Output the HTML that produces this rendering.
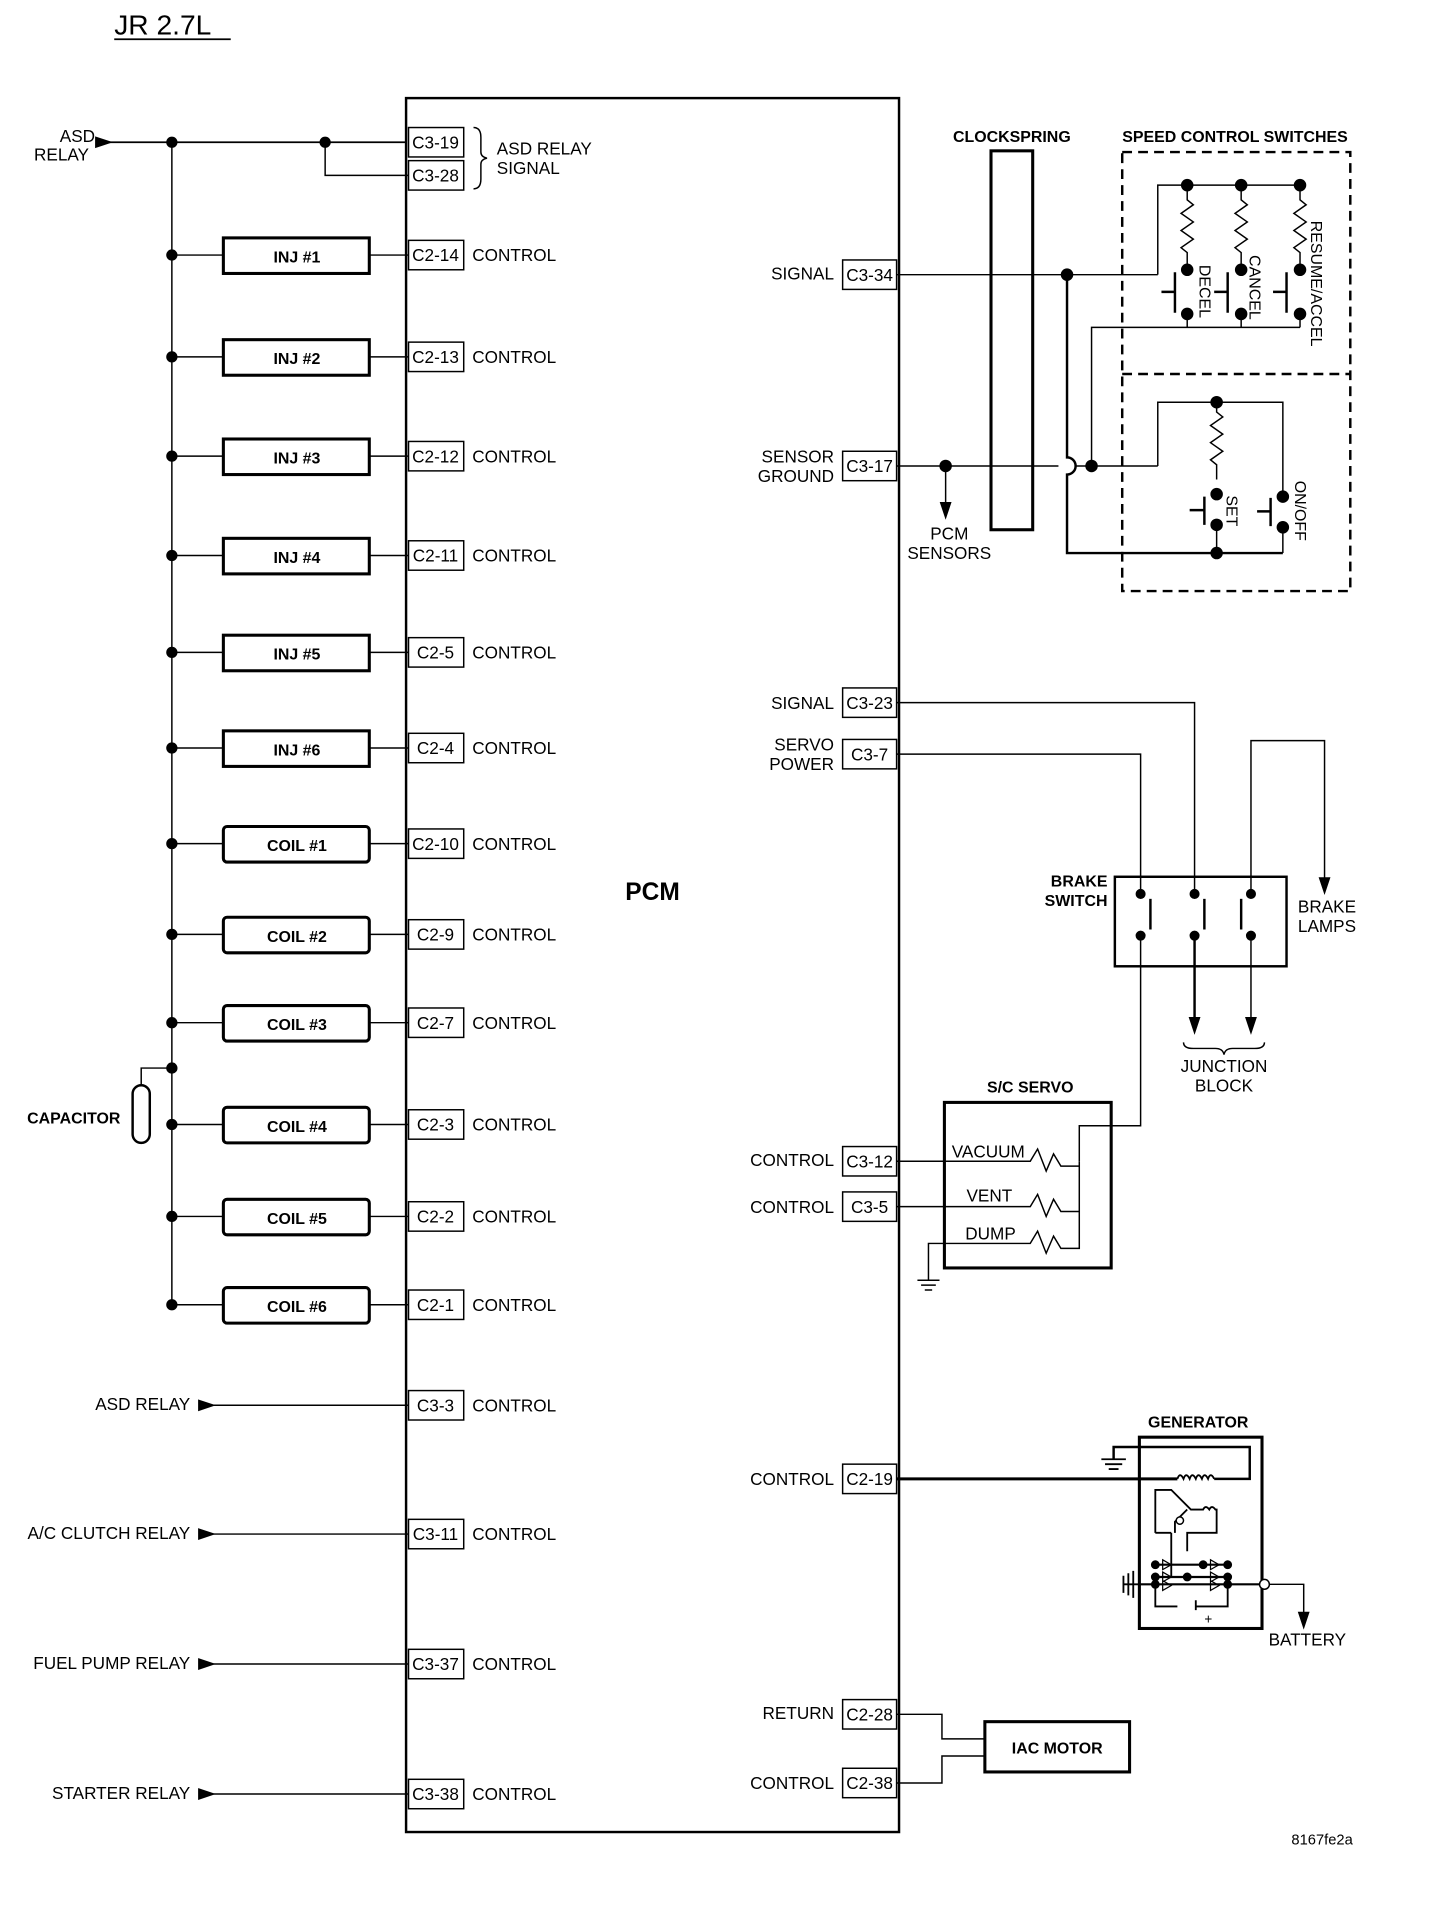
<!DOCTYPE html>
<html><head><meta charset="utf-8"><style>
html,body{margin:0;padding:0;background:#fff}
svg{display:block}
text{font-family:"Liberation Sans",Arial,sans-serif;font-size:14px;fill:#000}
.b{font-weight:bold}
</style></head><body>
<svg width="1440" height="1924" viewBox="0 0 1174 1569" xmlns="http://www.w3.org/2000/svg">
<g stroke="#000" fill="none" stroke-width="1.2">
<text x="93" y="28" style="font-size:23px" stroke="none">JR 2.7L</text>
<line x1="93" y1="32" x2="188" y2="32" stroke-width="1.5"/>
<rect x="331" y="80" width="402" height="1414" stroke-width="2"/>
<text x="532" y="734" class="b" style="font-size:20px" text-anchor="middle" stroke="none">PCM</text>
<line x1="140" y1="116" x2="140" y2="1064"/>
<line x1="78" y1="116" x2="331" y2="116" stroke-width="1.5"/>
<path d="M90 116 L78 112 L78 120Z" fill="#000"/>
<text x="63" y="116" text-anchor="middle" stroke="none">ASD</text>
<text x="50" y="131" text-anchor="middle" stroke="none">RELAY</text>
<circle cx="140" cy="116" r="4" fill="#000"/><circle cx="265" cy="116" r="4" fill="#000"/>
<path d="M265 116 V143 H333"/>
<rect x="333" y="104" width="45" height="24"/><text x="355" y="121" text-anchor="middle" stroke="none">C3-19</text>
<rect x="333" y="131" width="45" height="24"/><text x="355" y="148" text-anchor="middle" stroke="none">C3-28</text>
<path d="M386 104 q6 0 6 8 v12 q0 4 5 5 q-5 1 -5 5 v12 q0 8 -6 8"/>
<text x="405" y="126" stroke="none">ASD RELAY</text><text x="405" y="142" stroke="none">SIGNAL</text>
<g id="rows">
<line x1="140" y1="208" x2="182" y2="208"/><line x1="301" y1="208" x2="333" y2="208"/><circle cx="140" cy="208" r="4" fill="#000"/><rect x="182" y="194" width="119" height="29" stroke-width="2.5"/><text x="242" y="214" class="b" text-anchor="middle" stroke="none" style="font-size:13px">INJ #1</text><rect x="333" y="196" width="45" height="24"/><text x="355" y="213" text-anchor="middle" stroke="none">C2-14</text><text x="385" y="213" stroke="none">CONTROL</text>
<line x1="140" y1="291" x2="182" y2="291"/><line x1="301" y1="291" x2="333" y2="291"/><circle cx="140" cy="291" r="4" fill="#000"/><rect x="182" y="277" width="119" height="29" stroke-width="2.5"/><text x="242" y="297" class="b" text-anchor="middle" stroke="none" style="font-size:13px">INJ #2</text><rect x="333" y="279" width="45" height="24"/><text x="355" y="296" text-anchor="middle" stroke="none">C2-13</text><text x="385" y="296" stroke="none">CONTROL</text>
<line x1="140" y1="372" x2="182" y2="372"/><line x1="301" y1="372" x2="333" y2="372"/><circle cx="140" cy="372" r="4" fill="#000"/><rect x="182" y="358" width="119" height="29" stroke-width="2.5"/><text x="242" y="378" class="b" text-anchor="middle" stroke="none" style="font-size:13px">INJ #3</text><rect x="333" y="360" width="45" height="24"/><text x="355" y="377" text-anchor="middle" stroke="none">C2-12</text><text x="385" y="377" stroke="none">CONTROL</text>
<line x1="140" y1="453" x2="182" y2="453"/><line x1="301" y1="453" x2="333" y2="453"/><circle cx="140" cy="453" r="4" fill="#000"/><rect x="182" y="439" width="119" height="29" stroke-width="2.5"/><text x="242" y="459" class="b" text-anchor="middle" stroke="none" style="font-size:13px">INJ #4</text><rect x="333" y="441" width="45" height="24"/><text x="355" y="458" text-anchor="middle" stroke="none">C2-11</text><text x="385" y="458" stroke="none">CONTROL</text>
<line x1="140" y1="532" x2="182" y2="532"/><line x1="301" y1="532" x2="333" y2="532"/><circle cx="140" cy="532" r="4" fill="#000"/><rect x="182" y="518" width="119" height="29" stroke-width="2.5"/><text x="242" y="538" class="b" text-anchor="middle" stroke="none" style="font-size:13px">INJ #5</text><rect x="333" y="520" width="45" height="24"/><text x="355" y="537" text-anchor="middle" stroke="none">C2-5</text><text x="385" y="537" stroke="none">CONTROL</text>
<line x1="140" y1="610" x2="182" y2="610"/><line x1="301" y1="610" x2="333" y2="610"/><circle cx="140" cy="610" r="4" fill="#000"/><rect x="182" y="596" width="119" height="29" stroke-width="2.5"/><text x="242" y="616" class="b" text-anchor="middle" stroke="none" style="font-size:13px">INJ #6</text><rect x="333" y="598" width="45" height="24"/><text x="355" y="615" text-anchor="middle" stroke="none">C2-4</text><text x="385" y="615" stroke="none">CONTROL</text>
<line x1="140" y1="688" x2="182" y2="688"/><line x1="301" y1="688" x2="333" y2="688"/><circle cx="140" cy="688" r="4" fill="#000"/><rect x="182" y="674" width="119" height="29" rx="3" stroke-width="2.5"/><text x="242" y="694" class="b" text-anchor="middle" stroke="none" style="font-size:13px">COIL #1</text><rect x="333" y="676" width="45" height="24"/><text x="355" y="693" text-anchor="middle" stroke="none">C2-10</text><text x="385" y="693" stroke="none">CONTROL</text>
<line x1="140" y1="762" x2="182" y2="762"/><line x1="301" y1="762" x2="333" y2="762"/><circle cx="140" cy="762" r="4" fill="#000"/><rect x="182" y="748" width="119" height="29" rx="3" stroke-width="2.5"/><text x="242" y="768" class="b" text-anchor="middle" stroke="none" style="font-size:13px">COIL #2</text><rect x="333" y="750" width="45" height="24"/><text x="355" y="767" text-anchor="middle" stroke="none">C2-9</text><text x="385" y="767" stroke="none">CONTROL</text>
<line x1="140" y1="834" x2="182" y2="834"/><line x1="301" y1="834" x2="333" y2="834"/><circle cx="140" cy="834" r="4" fill="#000"/><rect x="182" y="820" width="119" height="29" rx="3" stroke-width="2.5"/><text x="242" y="840" class="b" text-anchor="middle" stroke="none" style="font-size:13px">COIL #3</text><rect x="333" y="822" width="45" height="24"/><text x="355" y="839" text-anchor="middle" stroke="none">C2-7</text><text x="385" y="839" stroke="none">CONTROL</text>
<line x1="140" y1="917" x2="182" y2="917"/><line x1="301" y1="917" x2="333" y2="917"/><circle cx="140" cy="917" r="4" fill="#000"/><rect x="182" y="903" width="119" height="29" rx="3" stroke-width="2.5"/><text x="242" y="923" class="b" text-anchor="middle" stroke="none" style="font-size:13px">COIL #4</text><rect x="333" y="905" width="45" height="24"/><text x="355" y="922" text-anchor="middle" stroke="none">C2-3</text><text x="385" y="922" stroke="none">CONTROL</text>
<line x1="140" y1="992" x2="182" y2="992"/><line x1="301" y1="992" x2="333" y2="992"/><circle cx="140" cy="992" r="4" fill="#000"/><rect x="182" y="978" width="119" height="29" rx="3" stroke-width="2.5"/><text x="242" y="998" class="b" text-anchor="middle" stroke="none" style="font-size:13px">COIL #5</text><rect x="333" y="980" width="45" height="24"/><text x="355" y="997" text-anchor="middle" stroke="none">C2-2</text><text x="385" y="997" stroke="none">CONTROL</text>
<line x1="140" y1="1064" x2="182" y2="1064"/><line x1="301" y1="1064" x2="333" y2="1064"/><circle cx="140" cy="1064" r="4" fill="#000"/><rect x="182" y="1050" width="119" height="29" rx="3" stroke-width="2.5"/><text x="242" y="1070" class="b" text-anchor="middle" stroke="none" style="font-size:13px">COIL #6</text><rect x="333" y="1052" width="45" height="24"/><text x="355" y="1069" text-anchor="middle" stroke="none">C2-1</text><text x="385" y="1069" stroke="none">CONTROL</text>
</g>
<circle cx="140" cy="871" r="4" fill="#000"/>
<path d="M140 871 H115 V885"/>
<rect x="108" y="885" width="14" height="47" rx="7" stroke-width="2"/>
<text x="22" y="916" class="b" stroke="none" style="font-size:13px">CAPACITOR</text>
<g>
<text x="155" y="1150" text-anchor="end" stroke="none">ASD RELAY</text><path d="M162 1142 L174 1146 L162 1150Z" fill="#000"/><line x1="174" y1="1146" x2="333" y2="1146"/><rect x="333" y="1134" width="45" height="24"/><text x="355" y="1151" text-anchor="middle" stroke="none">C3-3</text><text x="385" y="1151" stroke="none">CONTROL</text>
<text x="155" y="1255" text-anchor="end" stroke="none">A/C CLUTCH RELAY</text><path d="M162 1247 L174 1251 L162 1255Z" fill="#000"/><line x1="174" y1="1251" x2="333" y2="1251"/><rect x="333" y="1239" width="45" height="24"/><text x="355" y="1256" text-anchor="middle" stroke="none">C3-11</text><text x="385" y="1256" stroke="none">CONTROL</text>
<text x="155" y="1361" text-anchor="end" stroke="none">FUEL PUMP RELAY</text><path d="M162 1353 L174 1357 L162 1361Z" fill="#000"/><line x1="174" y1="1357" x2="333" y2="1357"/><rect x="333" y="1345" width="45" height="24"/><text x="355" y="1362" text-anchor="middle" stroke="none">C3-37</text><text x="385" y="1362" stroke="none">CONTROL</text>
<text x="155" y="1467" text-anchor="end" stroke="none">STARTER RELAY</text><path d="M162 1459 L174 1463 L162 1467Z" fill="#000"/><line x1="174" y1="1463" x2="333" y2="1463"/><rect x="333" y="1451" width="45" height="24"/><text x="355" y="1468" text-anchor="middle" stroke="none">C3-38</text><text x="385" y="1468" stroke="none">CONTROL</text>
</g>
<g>
<rect x="687" y="212" width="44" height="24"/><text x="709" y="229" text-anchor="middle" stroke="none">C3-34</text><text x="680" y="228" text-anchor="end" stroke="none">SIGNAL</text>
<rect x="687" y="368" width="44" height="24"/><text x="709" y="385" text-anchor="middle" stroke="none">C3-17</text><text x="680" y="377" text-anchor="end" stroke="none">SENSOR</text><text x="680" y="393" text-anchor="end" stroke="none">GROUND</text>
<rect x="687" y="561" width="44" height="24"/><text x="709" y="578" text-anchor="middle" stroke="none">C3-23</text><text x="680" y="578" text-anchor="end" stroke="none">SIGNAL</text>
<rect x="687" y="603" width="44" height="24"/><text x="709" y="620" text-anchor="middle" stroke="none">C3-7</text><text x="680" y="612" text-anchor="end" stroke="none">SERVO</text><text x="680" y="628" text-anchor="end" stroke="none">POWER</text>
<rect x="687" y="935" width="44" height="24"/><text x="709" y="952" text-anchor="middle" stroke="none">C3-12</text><text x="680" y="951" text-anchor="end" stroke="none">CONTROL</text>
<rect x="687" y="972" width="44" height="24"/><text x="709" y="989" text-anchor="middle" stroke="none">C3-5</text><text x="680" y="989" text-anchor="end" stroke="none">CONTROL</text>
<rect x="687" y="1194" width="44" height="24"/><text x="709" y="1211" text-anchor="middle" stroke="none">C2-19</text><text x="680" y="1211" text-anchor="end" stroke="none">CONTROL</text>
<rect x="687" y="1386" width="44" height="24"/><text x="709" y="1403" text-anchor="middle" stroke="none">C2-28</text><text x="680" y="1402" text-anchor="end" stroke="none">RETURN</text>
<rect x="687" y="1442" width="44" height="24"/><text x="709" y="1459" text-anchor="middle" stroke="none">C2-38</text><text x="680" y="1459" text-anchor="end" stroke="none">CONTROL</text>
</g>
<text x="825" y="116" class="b" text-anchor="middle" stroke="none" style="font-size:13px">CLOCKSPRING</text>
<rect x="808" y="123" width="34" height="309" stroke-width="2.5"/>
<text x="1007" y="116" class="b" text-anchor="middle" stroke="none" style="font-size:13px">SPEED CONTROL SWITCHES</text>
<rect x="915" y="124" width="186" height="358" stroke-width="2" stroke-dasharray="8,5"/>
<line x1="915" y1="305" x2="1101" y2="305" stroke-width="2" stroke-dasharray="8,5"/>
<line x1="731" y1="224" x2="944" y2="224"/>
<circle cx="870" cy="224" r="4.5" fill="#000"/>
<path d="M944 224 V151 H1060"/>
<path d="M870 224 V373 a7 7 0 0 1 0 14 V451 H1046" stroke-width="2"/>
<g>
<circle cx="968" cy="151" r="4.5" fill="#000"/><circle cx="1012" cy="151" r="4.5" fill="#000"/><circle cx="1060" cy="151" r="4.5" fill="#000"/>
<path d="M968 151 v12 l5 4 -10 7 10 7 -10 7 10 7 -10 7 5 4 v12"/>
<path d="M1012 151 v12 l5 4 -10 7 10 7 -10 7 10 7 -10 7 5 4 v12"/>
<path d="M1060 151 v12 l5 4 -10 7 10 7 -10 7 10 7 -10 7 5 4 v12"/>
<circle cx="968" cy="220" r="4.5" fill="#000"/><circle cx="1012" cy="220" r="4.5" fill="#000"/><circle cx="1060" cy="220" r="4.5" fill="#000"/>
<circle cx="968" cy="256" r="4.5" fill="#000"/><circle cx="1012" cy="256" r="4.5" fill="#000"/><circle cx="1060" cy="256" r="4.5" fill="#000"/>
<path d="M958 222 V255 M947 238 H958" stroke-width="2"/>
<path d="M1001 222 V255 M990 238 H1001" stroke-width="2"/>
<path d="M1049 222 V255 M1038 238 H1049" stroke-width="2"/>
<path d="M968 256 V267 M1012 256 V267 M1060 256 V267 M1060 267 H890 V380"/>
<text transform="translate(978,216) rotate(90)" stroke="none" style="font-size:13px">DECEL</text>
<text transform="translate(1019,208) rotate(90)" stroke="none" style="font-size:13px">CANCEL</text>
<text transform="translate(1069,180) rotate(90)" stroke="none" style="font-size:13px">RESUME/ACCEL</text>
</g>
<line x1="731" y1="380" x2="863" y2="380"/><line x1="877" y1="380" x2="944" y2="380"/>
<circle cx="771" cy="380" r="4.5" fill="#000"/><circle cx="890" cy="380" r="4.5" fill="#000"/>
<path d="M771 380 V412"/><path d="M767 410 L771 422 L775 410Z" fill="#000"/>
<text x="774" y="440" text-anchor="middle" stroke="none">PCM</text><text x="774" y="456" text-anchor="middle" stroke="none">SENSORS</text>
<path d="M944 380 V328 H1046 V405"/>
<circle cx="992" cy="328" r="4.5" fill="#000"/>
<path d="M992 328 v8 l5 4 -10 7 10 7 -10 7 10 7 -10 7 5 4 v12"/>
<circle cx="992" cy="403" r="4.5" fill="#000"/><circle cx="992" cy="428" r="4.5" fill="#000"/><circle cx="992" cy="451" r="4.5" fill="#000"/>
<circle cx="1046" cy="405" r="4.5" fill="#000"/><circle cx="1046" cy="430" r="4.5" fill="#000"/>
<path d="M982 405 V428 M970 416 H982" stroke-width="2"/>
<path d="M1036 406 V429 M1025 417 H1036" stroke-width="2"/>
<path d="M992 428 V451 M1046 430 V451"/>
<text transform="translate(1000,404) rotate(90)" stroke="none" style="font-size:13px">SET</text>
<text transform="translate(1056,392) rotate(90)" stroke="none" style="font-size:13px">ON/OFF</text>
<text x="903" y="723" text-anchor="end" class="b" stroke="none" style="font-size:13px">BRAKE</text>
<text x="903" y="739" text-anchor="end" class="b" stroke="none" style="font-size:13px">SWITCH</text>
<rect x="909" y="715" width="140" height="73" stroke-width="2"/>
<path d="M731 573 H974 V727"/>
<path d="M731 615 H930 V727"/>
<path d="M1020 727 V604 H1080 V717"/><path d="M1076 716 L1080 728 L1084 716Z" fill="#000"/>
<text x="1082" y="744" text-anchor="middle" stroke="none">BRAKE</text><text x="1082" y="760" text-anchor="middle" stroke="none">LAMPS</text>
<circle cx="930" cy="729" r="3.5" fill="#000"/><circle cx="930" cy="763" r="3.5" fill="#000"/><path d="M938 733 V758" stroke-width="2"/>
<circle cx="974" cy="729" r="3.5" fill="#000"/><circle cx="974" cy="763" r="3.5" fill="#000"/><path d="M982 733 V758" stroke-width="2"/>
<circle cx="1020" cy="729" r="3.5" fill="#000"/><circle cx="1020" cy="763" r="3.5" fill="#000"/><path d="M1012 733 V758" stroke-width="2"/>
<path d="M974 763 V830" stroke-width="2"/><path d="M970 830 L974 842 L978 830Z" fill="#000"/>
<path d="M1020 763 V830"/><path d="M1016 830 L1020 842 L1024 830Z" fill="#000"/>
<path d="M965 850 q0 5 8 5 h18 q6 0 7 5 q1 -5 7 -5 h18 q8 0 8 -5"/>
<text x="998" y="874" text-anchor="middle" stroke="none">JUNCTION</text><text x="998" y="890" text-anchor="middle" stroke="none">BLOCK</text>
<path d="M930 763 V918 H906"/>
<text x="840" y="891" text-anchor="middle" class="b" stroke="none" style="font-size:13px">S/C SERVO</text>
<rect x="770" y="899" width="136" height="135" stroke-width="2.5"/>
<path d="M731 947 H840 l6 -10 7 18 6 -14 6 10 H880"/>
<path d="M731 984 H840 l6 -10 7 18 6 -14 6 10 H880"/>
<path d="M757 1044 V1014 H840 l6 -10 7 18 6 -14 6 10 H880 V947"/>
<path d="M880 947 V918 H906"/>
<text x="776" y="944" stroke="none">VACUUM</text><text x="788" y="980" stroke="none">VENT</text><text x="787" y="1011" stroke="none">DUMP</text>
<path d="M748 1044 H766 M751 1048 H763 M754 1052 H760"/>
<text x="977" y="1164" text-anchor="middle" class="b" stroke="none" style="font-size:13px">GENERATOR</text>
<rect x="929" y="1172" width="100" height="156" stroke-width="2.5"/>
<path d="M731 1206 H960" stroke-width="2.5"/>
<path d="M960 1206 q2 -6 5 0 q2 -6 5 0 q2 -6 5 0 q2 -6 5 0 q2 -6 5 0 q2 -6 5 0" stroke-width="1.5"/>
<path d="M990 1206 H1019 V1180 H908 V1190" stroke-width="2"/>
<path d="M898 1190 H918 M901 1194 H915 M904 1198 H912" stroke-width="1.5"/>
<path d="M942 1250 V1215 H955 l8 8 l8 8 l10 0 q2 -4 5 0 q2 -4 5 0 H992 V1250 H968 V1265 M955 1250 H942 M968 1231 l-10 10 V1250 M955 1250 V1286 M968 1250" stroke-width="1.5"/>
<circle cx="962" cy="1240" r="3" fill="#fff"/>
<path d="M942 1276 H1001 M942 1286 H1001 M929 1292 H1029" stroke-width="1.8"/>
<path d="M948 1272 l7 4 -7 4Z M948 1282 l7 4 -7 4Z M948 1289 l7 4 -7 4Z M987 1272 l7 4 -7 4Z M987 1282 l7 4 -7 4Z M987 1289 l7 4 -7 4Z" stroke-width="1"/>
<circle cx="942" cy="1276" r="3" fill="#000"/><circle cx="942" cy="1286" r="3" fill="#000"/><circle cx="942" cy="1292" r="3" fill="#000"/>
<circle cx="1001" cy="1276" r="3" fill="#000"/><circle cx="1001" cy="1286" r="3" fill="#000"/><circle cx="1001" cy="1292" r="3" fill="#000"/>
<circle cx="968" cy="1286" r="3" fill="#000"/><circle cx="981" cy="1276" r="3" fill="#000"/>
<path d="M942 1292 V1310 H960 M975 1305 V1313 M975 1310 H1001 V1292" stroke-width="1.5"/>
<text x="982" y="1324" stroke="none" style="font-size:11px">+</text>
<path d="M916 1292 H929 M916 1285 V1299 M920 1283 V1301 M924 1281 V1303" stroke-width="1.5"/>
<circle cx="1031" cy="1292" r="4" fill="#fff"/>
<path d="M1035 1292 H1063 V1316"/><path d="M1059 1315 L1063 1327 L1067 1315Z" fill="#000"/>
<text x="1066" y="1342" text-anchor="middle" stroke="none">BATTERY</text>
<rect x="803" y="1404" width="118" height="41" stroke-width="2.5"/>
<text x="862" y="1430" text-anchor="middle" class="b" stroke="none" style="font-size:13px">IAC MOTOR</text>
<path d="M731 1398 H768 V1418 H803"/>
<path d="M731 1454 H768 V1432 H803"/>
<text x="1078" y="1504" text-anchor="middle" stroke="none" style="font-size:12px">8167fe2a</text>
</g>
</svg>
</body></html>
